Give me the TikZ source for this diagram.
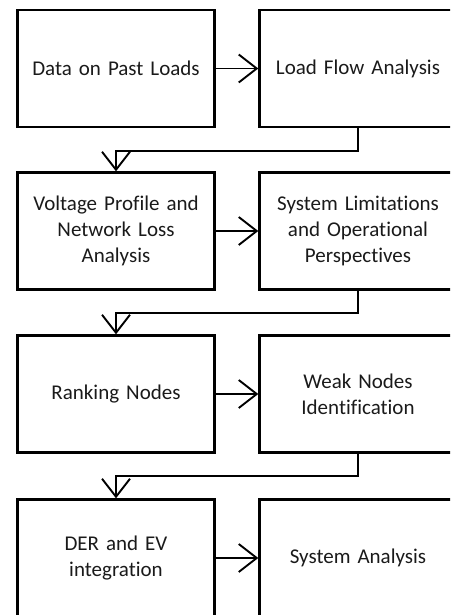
\documentclass[tikz,border=0pt]{standalone}
\usepackage{fontspec}
\setmainfont{Carlito}[Ligatures=NoCommon]
\usetikzlibrary{arrows.meta,positioning,calc}

\definecolor{inkgray}{HTML}{1A1A1A}

\tikzset{
  stagebox/.style={draw=black, line width=2.4pt, minimum width=197pt, minimum height=117pt,
    inner sep=0pt, align=center, text width=190pt, text=inkgray,
    font=\fontsize{21}{26}\selectfont},
  flow/.style={line width=1.9pt, -{Straight Barb[length=18pt,width=28pt,line width=1.9pt]}},
}

\begin{document}
\begin{tikzpicture}[x=1pt,y=-1pt]
  \useasboundingbox (0,0) rectangle (450,615);
  \clip (0,0) rectangle (450,615);

  % left column
  \node[stagebox] (past) at (116,68.5)  {Data on Past Loads};
  \node[stagebox] (volt) at (116,231)   {Voltage Profile and\\Network Loss\\Analysis};
  \node[stagebox] (rank) at (116,394)   {Ranking Nodes};
  \node[stagebox] (der)  at (116,558)   {DER and EV\\integration};

  % right column (runs past the right edge)
  \node[stagebox] (lfa)  at (358,68.5)  {Load Flow Analysis};
  \node[stagebox] (lim)  at (358,231)   {System Limitations\\and Operational\\Perspectives};
  \node[stagebox] (weak) at (358,394)   {Weak Nodes\\Identification};
  \node[stagebox] (sys)  at (358,558)   {System Analysis};

  % row arrows
  \draw[flow] (past) -- (lfa);
  \draw[flow] (volt) -- (lim);
  \draw[flow] (rank) -- (weak);
  \draw[flow] (der)  -- (sys);

  % return connectors between rows
  \draw[flow] (lfa.south)  -- ++(0,22.5) -| (volt.north);
  \draw[flow] (lim.south)  -- ++(0,22.5) -| (rank.north);
  \draw[flow] (weak.south) -- ++(0,22.5) -| (der.north);
\end{tikzpicture}
\end{document}
